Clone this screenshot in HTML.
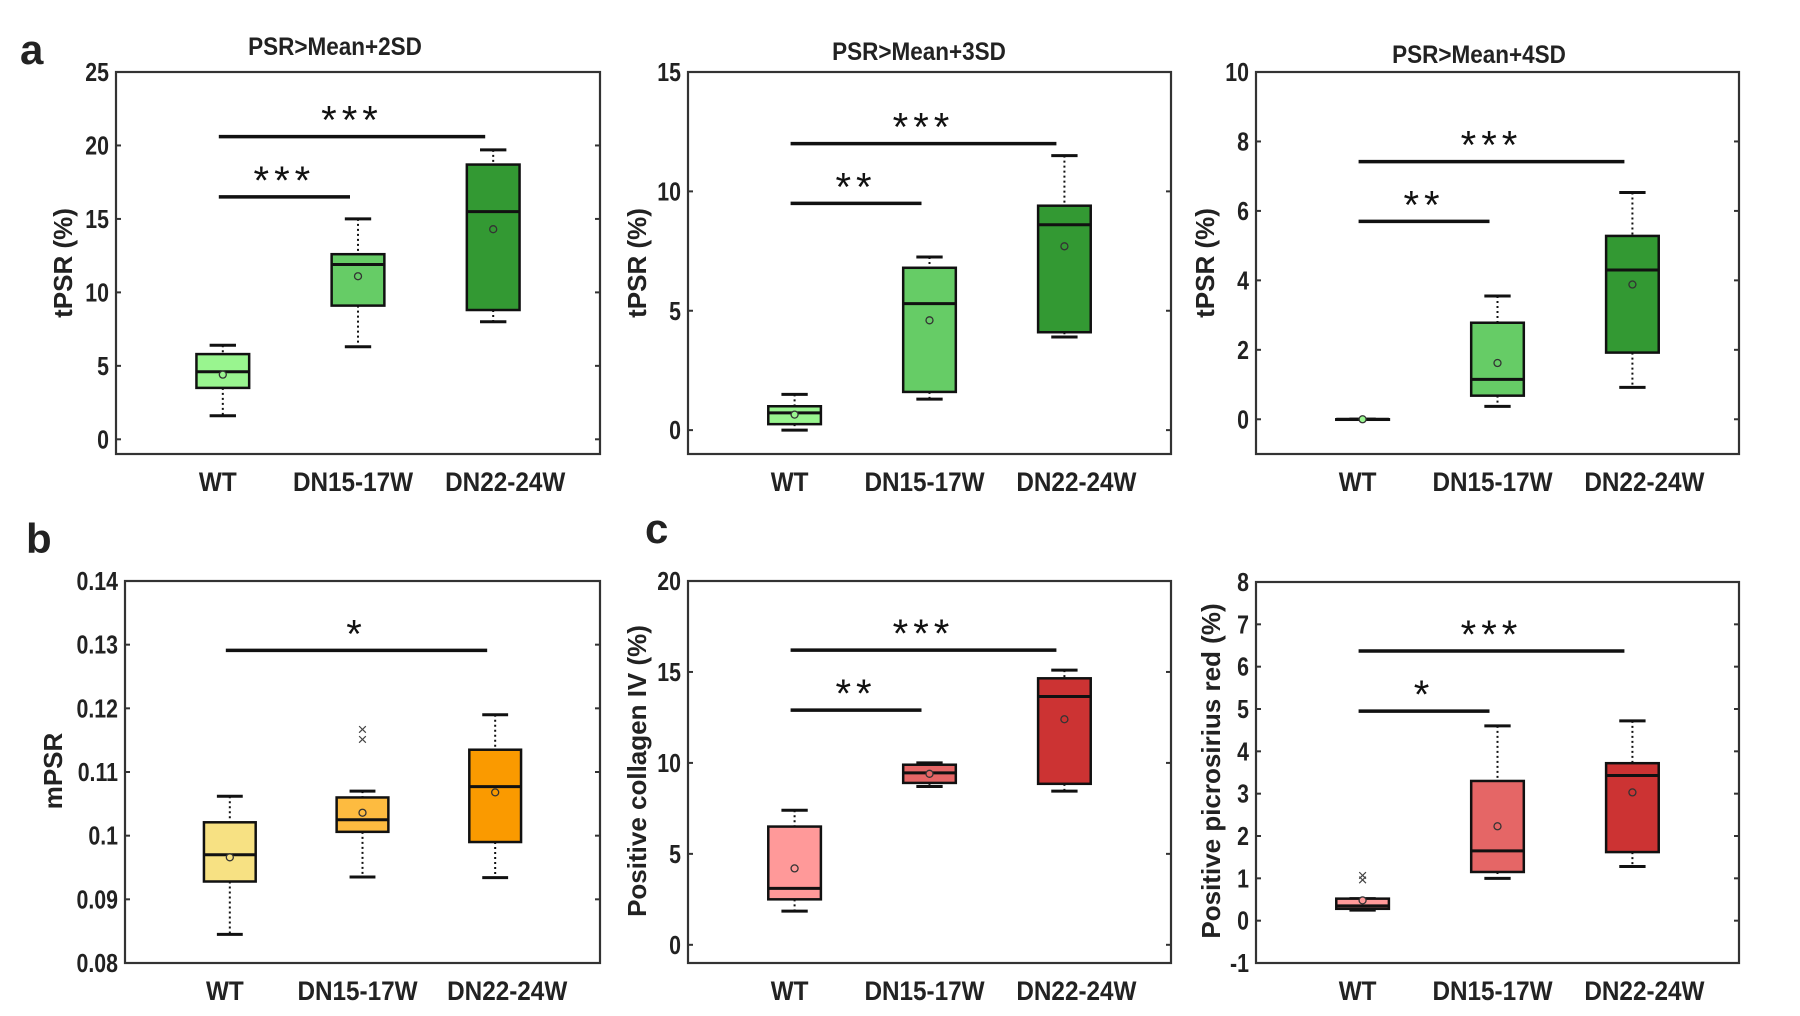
<!DOCTYPE html>
<html><head><meta charset="utf-8">
<style>
html,body{margin:0;padding:0;background:#fff;}
svg{display:block;}
text{font-family:"Liberation Sans Narrow","Liberation Sans",sans-serif;font-weight:bold;fill:#222;}
</style></head>
<body>
<svg id="fig" width="1800" height="1016" viewBox="0 0 1800 1016" xmlns="http://www.w3.org/2000/svg">
<text x="20" y="64" style="font-family:'Liberation Sans',sans-serif;font-size:42px">a</text>
<text x="26" y="553" style="font-family:'Liberation Sans',sans-serif;font-size:42px">b</text>
<text x="645" y="543" style="font-family:'Liberation Sans',sans-serif;font-size:42px">c</text>
</svg>
<script>
const categories = ["WT", "DN15-17W", "DN22-24W"];
// panel a1
const a1Low = [1.6, 6.3, 8.0], a1Q1 = [3.5, 9.1, 8.8], a1Med = [4.6, 11.9, 15.5], a1Q3 = [5.8, 12.6, 18.7], a1High = [6.4, 15.0, 19.7], a1Mean = [4.4, 11.1, 14.3];
const a1Ticks = [0, 5, 10, 15, 20, 25];
// panel a2
const a2Low = [0, 1.3, 3.9], a2Q1 = [0.25, 1.6, 4.1], a2Med = [0.72, 5.3, 8.6], a2Q3 = [1.0, 6.8, 9.4], a2High = [1.5, 7.25, 11.5], a2Mean = [0.65, 4.6, 7.7];
const a2Ticks = [0, 5, 10, 15];
// panel a3
const a3Low = [0, 0.37, 0.92], a3Q1 = [0, 0.68, 1.92], a3Med = [0, 1.15, 4.3], a3Q3 = [0, 2.78, 5.28], a3High = [0, 3.55, 6.53], a3Mean = [0, 1.62, 3.88];
const a3Ticks = [0, 2, 4, 6, 8, 10];
// panel b
const bLow = [0.0845, 0.0935, 0.0934], bQ1 = [0.0928, 0.1006, 0.0990], bMed = [0.0970, 0.1025, 0.1077], bQ3 = [0.1021, 0.1060, 0.1135], bHigh = [0.1062, 0.1070, 0.1190], bMean = [0.0966, 0.1036, 0.1068];
const bOutliers = [[], [0.1150, 0.1166], []];
const bTicks = [0.08, 0.09, 0.1, 0.11, 0.12, 0.13, 0.14];
// panel c1
const c1Low = [1.85, 8.7, 8.45], c1Q1 = [2.5, 8.9, 8.85], c1Med = [3.1, 9.45, 13.65], c1Q3 = [6.5, 9.9, 14.65], c1High = [7.4, 10.0, 15.1], c1Mean = [4.2, 9.4, 12.4];
const c1Ticks = [0, 5, 10, 15, 20];
// panel c2
const c2Low = [0.25, 1.0, 1.28], c2Q1 = [0.28, 1.15, 1.62], c2Med = [0.35, 1.65, 3.43], c2Q3 = [0.52, 3.3, 3.72], c2High = [0.52, 4.6, 4.72], c2Mean = [0.48, 2.23, 3.03];
const c2Outliers = [[0.95, 1.05], [], []];
const c2Ticks = [-1, 0, 1, 2, 3, 4, 5, 6, 7, 8];
// significance: [fromIdx, toIdx, yValue, stars]
const a1Sig = [[0, 2, 20.6, "***"], [0, 1, 16.5, "***"]];
const a2Sig = [[0, 2, 12.0, "***"], [0, 1, 9.5, "**"]];
const a3Sig = [[0, 2, 7.42, "***"], [0, 1, 5.7, "**"]];
const bSig = [[0, 2, 0.1291, "*"]];
const c1Sig = [[0, 2, 16.2, "***"], [0, 1, 12.9, "**"]];
const c2Sig = [[0, 2, 6.37, "***"], [0, 1, 4.95, "*"]];

const NS = "http://www.w3.org/2000/svg";
const svg = document.getElementById("fig");
function mk(tag, attrs, parent) {
  const e = document.createElementNS(NS, tag);
  for (const k in attrs) e.setAttribute(k, attrs[k]);
  (parent || svg).appendChild(e);
  return e;
}
const greens = ["#99f58f", "#66cc66", "#339933"];
const oranges = ["#f7e183", "#fdbb40", "#fa9a00"];
const reds = ["#ff9999", "#e56666", "#cc3333"];
const labelShift = [-5, -5, 12];

function panel(p) {
  const g = mk("g", {});
  
  
  const L = p.left, R = p.left + p.w, T = p.top, B = p.top + p.h;
  const y = v => B - (v - p.ymin) / (p.ymax - p.ymin) * p.h;
  const x = i => L + (i + 1 - 0.21) / 3.58 * p.w;
  const bw = 0.39 / 3.58 * p.w;
  const fr = mk("rect", {x: L, y: T, width: p.w, height: p.h, fill: "none", stroke: "#333", "stroke-width": 2.2}, g);
  
  
  p.ticks.forEach(t => {
    const yy = y(t);
    mk("line", {x1: L, x2: L + 5, y1: yy, y2: yy, stroke: "#333", "stroke-width": 2}, g);
    mk("line", {x1: R - 5, x2: R, y1: yy, y2: yy, stroke: "#333", "stroke-width": 2}, g);
    const tx = mk("text", {x: 0, y: 0, "text-anchor": "end", "font-size": 26, transform: `translate(${L - 7},${yy + 9}) scale(0.82,1)`}, g);
    tx.textContent = String(t);
    
    
  });
  categories.forEach((c, i) => {
    const tx = mk("text", {x: 0, y: 0, "text-anchor": "middle", "font-size": 27, transform: `translate(${x(i) + labelShift[i]},${B + 37}) scale(0.9,1)`}, g);
    tx.textContent = c;
    
    
  });
  const yl = mk("text", {x: 0, y: 0, "text-anchor": "middle", "font-size": 26, transform: `translate(${p.ylx},${p.yly}) rotate(-90)`, style: "font-family:'Liberation Sans',sans-serif"}, g);
  yl.textContent = p.ylabel;
  
  
  if (p.title) {
    const tt = mk("text", {x: 0, y: 0, "text-anchor": "middle", "font-size": 25, transform: `translate(${p.tx},${p.ty}) scale(0.9,1)`}, g);
    tt.textContent = p.title;
    
    
  }
  categories.forEach((c, i) => {
    const bx = mk("g", {}, g);
    
    
    const cx = x(i);
    mk("line", {x1: cx, x2: cx, y1: y(p.high[i]), y2: y(p.q3[i]), stroke: "#111", "stroke-width": 2, "stroke-dasharray": "2,3"}, bx);
    mk("line", {x1: cx, x2: cx, y1: y(p.q1[i]), y2: y(p.low[i]), stroke: "#111", "stroke-width": 2, "stroke-dasharray": "2,3"}, bx);
    mk("line", {x1: cx - bw / 4, x2: cx + bw / 4, y1: y(p.high[i]), y2: y(p.high[i]), stroke: "#111", "stroke-width": 3}, bx);
    mk("line", {x1: cx - bw / 4, x2: cx + bw / 4, y1: y(p.low[i]), y2: y(p.low[i]), stroke: "#111", "stroke-width": 3}, bx);
    const yt = y(p.q3[i]), yb = y(p.q1[i]);
    mk("rect", {x: cx - bw / 2, y: yt, width: bw, height: Math.max(yb - yt, 0.5), fill: p.colors[i], stroke: "#111", "stroke-width": 2.5}, bx);
    mk("line", {x1: cx - bw / 2, x2: cx + bw / 2, y1: y(p.med[i]), y2: y(p.med[i]), stroke: "#111", "stroke-width": 3}, bx);
    mk("circle", {cx: cx, cy: y(p.mean[i]), r: 3.5, fill: p.colors[i], stroke: "#333", "stroke-width": 1.3}, bx);
    (p.out ? p.out[i] : []).forEach(v => {
      const t = mk("text", {x: cx, y: y(v) + 5, "text-anchor": "middle", "font-size": 17, style: "font-family:'Liberation Sans',sans-serif;font-weight:normal;fill:#444"}, bx);
      t.textContent = "×";
      
      
    });
  });
  p.sig.forEach(s => {
    const sg = mk("g", {}, g);
    
    
    const x1 = x(s[0]) - 4, x2 = x(s[1]) - 8, yy = y(s[2]);
    mk("line", {x1: x1, x2: x2, y1: yy, y2: yy, stroke: "#111", "stroke-width": 3.5}, sg);
    const st = mk("text", {x: (x1 + x2) / 2, y: yy - 3, "text-anchor": "middle", "font-size": 40, style: "font-family:'Liberation Sans',sans-serif;font-weight:normal;letter-spacing:5px;fill:#111"}, sg);
    st.textContent = s[3];
  });
}
panel({name: "panel-a-2sd", left: 116, top: 72, w: 484, h: 382, ymin: -1, ymax: 25, ticks: a1Ticks, ylabel: "tPSR (%)", ylx: 72, yly: 263, title: "PSR>Mean+2SD", tx: 335, ty: 55,
  low: a1Low, q1: a1Q1, med: a1Med, q3: a1Q3, high: a1High, mean: a1Mean, colors: greens, sig: a1Sig});
panel({name: "panel-a-3sd", left: 688, top: 72, w: 483, h: 382, ymin: -1, ymax: 15, ticks: a2Ticks, ylabel: "tPSR (%)", ylx: 646, yly: 263, title: "PSR>Mean+3SD", tx: 919, ty: 60,
  low: a2Low, q1: a2Q1, med: a2Med, q3: a2Q3, high: a2High, mean: a2Mean, colors: greens, sig: a2Sig});
panel({name: "panel-a-4sd", left: 1256, top: 72, w: 483, h: 382, ymin: -1, ymax: 10, ticks: a3Ticks, ylabel: "tPSR (%)", ylx: 1214, yly: 263, title: "PSR>Mean+4SD", tx: 1479, ty: 63,
  low: a3Low, q1: a3Q1, med: a3Med, q3: a3Q3, high: a3High, mean: a3Mean, colors: greens, sig: a3Sig});
panel({name: "panel-b-mpsr", left: 125, top: 581, w: 475, h: 382, ymin: 0.08, ymax: 0.14, ticks: bTicks, ylabel: "mPSR", ylx: 62, yly: 771,
  low: bLow, q1: bQ1, med: bMed, q3: bQ3, high: bHigh, mean: bMean, out: bOutliers, colors: oranges, sig: bSig});
panel({name: "panel-c-collagen", left: 688, top: 581, w: 483, h: 382, ymin: -1, ymax: 20, ticks: c1Ticks, ylabel: "Positive collagen IV (%)", ylx: 646, yly: 771,
  low: c1Low, q1: c1Q1, med: c1Med, q3: c1Q3, high: c1High, mean: c1Mean, colors: reds, sig: c1Sig});
panel({name: "panel-c-picrosirius", left: 1256, top: 582, w: 483, h: 381, ymin: -1, ymax: 8, ticks: c2Ticks, ylabel: "Positive picrosirius red (%)", ylx: 1220, yly: 771,
  low: c2Low, q1: c2Q1, med: c2Med, q3: c2Q3, high: c2High, mean: c2Mean, out: c2Outliers, colors: reds, sig: c2Sig});
</script>
</body></html>
